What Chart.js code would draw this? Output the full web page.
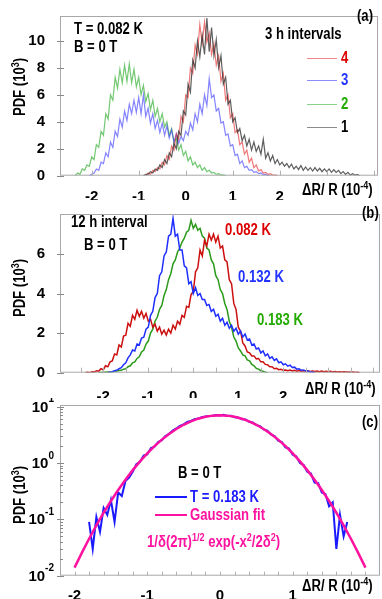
<!DOCTYPE html>
<html>
<head>
<meta charset="utf-8">
<script src="https://cdn.jsdelivr.net/npm/chart.js@4.4.1/dist/chart.umd.min.js"></script>
<style>
  body { margin: 0; width: 382px; height: 599px; background: #fff; position: relative; overflow: hidden;
    font-family: "Liberation Sans", Arial, sans-serif; font-weight: bold; }
  canvas { position: absolute; left: 0; }
  .t { position: absolute; white-space: nowrap; font-size: 16px; line-height: 16px;
    transform: scaleX(0.82); transform-origin: left center; }
  .ln { position: absolute; height: 0; }
  .yt { position: absolute; transform: translate(-50%, -50%) rotate(-90deg) scaleX(0.82); white-space: nowrap; font-size: 16px; line-height: 16px; }
  sup { font-size: 11px; line-height: 0; vertical-align: 6px; }
</style>
</head>
<body>
<canvas id="chartA" width="382" height="200" style="top:0"></canvas>
<canvas id="chartB" width="382" height="200" style="top:198px"></canvas>
<canvas id="chartC" width="382" height="201" style="top:398px"></canvas>

<!-- panel (a) text -->
<div class="t" style="left:74px;top:21px">T = 0.082 K</div>
<div class="t" style="left:74px;top:39px">B = 0 T</div>
<div class="t" style="left:265px;top:26px">3 h intervals</div>
<div class="t" style="left:357px;top:8px">(a)</div>
<div class="ln" style="left:307px;top:58px;width:30px;border-top:1px solid #f08a8a"></div>
<div class="t" style="left:341px;top:50px;color:#dd0000">4</div>
<div class="ln" style="left:307px;top:80px;width:30px;border-top:1px solid #8c8cff"></div>
<div class="t" style="left:341px;top:72px;color:#2233ff">3</div>
<div class="ln" style="left:307px;top:104px;width:30px;border-top:1px solid #8ad48a"></div>
<div class="t" style="left:341px;top:96px;color:#22aa00">2</div>
<div class="ln" style="left:307px;top:127px;width:30px;border-top:1px solid #8a8a8a"></div>
<div class="t" style="left:341px;top:119px;color:#000">1</div>
<div class="yt" style="left:20px;top:87px">PDF (10<sup>3</sup>)</div>
<div class="t" style="left:302px;top:182px">ΔR/ R (10<sup>-4</sup>)</div>

<!-- panel (b) text -->
<div class="t" style="left:71px;top:214px">12 h interval</div>
<div class="t" style="left:84px;top:237px">B = 0 T</div>
<div class="t" style="left:362px;top:205px">(b)</div>
<div class="t" style="left:225px;top:222px;color:#dd0000">0.082 K</div>
<div class="t" style="left:238px;top:269px;color:#2233ff">0.132 K</div>
<div class="t" style="left:257px;top:312px;color:#22aa00">0.183 K</div>
<div class="yt" style="left:20px;top:288px">PDF (10<sup>3</sup>)</div>
<div class="t" style="left:305px;top:381px">ΔR/ R (10<sup>-4</sup>)</div>

<!-- panel (c) text -->
<div class="t" style="left:178px;top:465px">B = 0 T</div>
<div class="ln" style="left:155px;top:496px;width:32px;border-top:2.5px solid #1a1aff"></div>
<div class="t" style="left:190px;top:489px;color:#1a1aff">T = 0.183 K</div>
<div class="ln" style="left:155px;top:514px;width:32px;border-top:2.5px solid #ff12a0"></div>
<div class="t" style="left:190px;top:507px;color:#ff12a0">Gaussian fit</div>
<div class="t" style="left:147px;top:534px;color:#ff12a0">1/δ(2π)<sup>1/2</sup> exp(-x<sup>2</sup>/2δ<sup>2</sup>)</div>
<div class="t" style="left:362px;top:414px">(c)</div>
<div class="yt" style="left:20px;top:495px">PDF (10<sup>3</sup>)</div>
<div class="t" style="left:302px;top:578px">ΔR/ R (10<sup>-4</sup>)</div>

<script>
const STEP = 0.05;
const FONT = '"Liberation Sans", Arial, sans-serif';

// panel (a): 3 h intervals at T = 0.082 K, values in 10^3
const a1Start = -0.90; // interval 1 (black)
const a1 = [0.0,0.1,0.1,0.3,0.2,0.5,0.4,0.8,0.6,1.2,0.9,1.7,1.4,2.4,2.0,3.3,3.0,4.8,4.5,6.8,
  6.2,8.6,8.0,10.0,8.8,10.4,9.0,11.7,9.2,11.0,8.9,10.1,8.0,8.9,6.8,7.3,5.3,5.6,4.0,4.3,
  3.2,3.5,2.6,3.0,2.2,2.7,1.9,2.5,1.8,2.2,1.6,2.7,1.3,1.7,1.1,1.5,0.9,1.2,0.8,1.0,
  0.7,0.9,0.6,0.85,0.5,0.7,0.45,0.75,0.4,0.65,0.4,0.6,0.35,0.6,0.35,0.55,0.3,0.5,0.3,0.5,
  0.25,0.45,0.25,0.4,0.15,0.3,0.1,0.25,0.05,0.15,0.05,0.1,0.0];
const a2Start = -2.35; // interval 2 (green)
const a2 = [0.0,0.2,0.1,0.5,0.4,0.8,0.7,1.4,1.2,2.3,2.1,3.3,3.0,4.6,4.2,6.0,5.6,7.3,6.5,7.9,
  6.9,8.2,7.0,8.3,6.9,7.9,6.6,7.3,6.0,6.7,5.5,6.1,4.9,5.6,4.4,5.0,4.0,4.6,3.6,4.0,
  3.0,3.5,2.5,2.8,1.9,2.3,1.5,1.8,1.1,1.4,0.8,1.0,0.6,0.8,0.4,0.6,0.3,0.4,0.2,0.25,
  0.1,0.15,0.05,0.05,0.0];
const a3Start = -2.05; // interval 3 (blue)
const a3 = [0.0,0.1,0.2,0.5,0.4,1.0,0.9,1.7,1.4,2.5,2.1,3.3,2.9,4.2,3.6,4.8,4.1,5.3,4.6,5.6,
  4.7,5.8,4.6,6.0,4.4,5.0,3.9,4.6,3.5,4.1,3.2,3.9,3.0,3.7,2.8,3.4,2.5,3.1,2.4,2.9,
  2.6,3.3,3.0,3.9,3.4,4.6,4.0,5.3,4.6,6.0,5.2,7.2,5.8,6.0,4.8,5.0,3.9,4.0,3.0,3.1,
  2.2,2.3,1.5,1.6,0.9,1.1,0.6,0.7,0.4,0.45,0.25,0.3,0.15,0.2,0.08,0.1,0.03,0.0];
const a4Start = -0.85; // interval 4 (red)
const a4 = [0.0,0.2,0.1,0.4,0.3,0.6,0.5,1.0,0.8,1.5,1.2,2.2,1.9,3.1,2.7,4.4,4.0,6.0,5.8,8.0,
  7.6,9.7,9.0,11.2,9.8,11.4,9.9,10.6,9.0,9.8,8.2,8.9,7.0,7.6,5.6,6.0,4.3,4.6,3.2,3.4,
  2.3,2.5,1.6,1.9,1.0,1.3,0.6,0.8,0.35,0.45,0.2,0.25,0.1,0.15,0.05,0.05,0.0];

// panel (b): 12 h interval at three temperatures
const b082Start = -2.40;
const b082 = [0.0,0.02,0.0,0.05,0.03,0.1,0.08,0.2,0.15,0.35,0.3,0.55,0.6,0.95,0.9,1.4,1.3,1.85,1.9,2.5,
  2.35,2.9,2.7,3.15,2.85,3.1,2.75,3.0,2.6,2.7,2.3,2.45,2.1,2.3,1.95,2.15,1.9,2.2,2.0,2.4,
  2.2,2.6,2.45,2.9,2.8,3.35,3.3,3.95,4.1,5.1,5.3,6.2,5.9,6.7,6.4,7.0,6.7,7.0,6.6,6.9,
  6.3,6.4,5.7,5.6,4.7,4.5,3.5,3.2,2.3,2.1,1.5,1.35,1.05,1.0,0.85,0.85,0.7,0.72,0.55,0.55,
  0.42,0.4,0.3,0.3,0.2,0.22,0.15,0.17,0.12,0.14,0.1,0.13,0.09,0.12,0.08,0.11,0.07,0.1,0.07,0.09,
  0.06,0.09,0.06,0.08,0.05,0.08,0.05,0.07,0.05,0.07,0.04,0.06,0.04,0.05,0.03,0.05,0.03,0.04,0.02,0.03,
  0.01,0.02,0.0];
const b132Start = -1.90;
const b132 = [0.0,0.03,0.05,0.1,0.12,0.2,0.25,0.4,0.5,0.75,0.9,1.15,1.1,1.45,1.4,1.75,1.8,2.2,2.3,2.9,
  3.1,3.8,4.0,4.9,5.1,5.9,6.1,6.9,7.0,7.8,6.9,7.0,6.2,6.2,5.4,5.3,4.5,4.6,4.0,4.3,
  3.9,4.0,3.7,3.7,3.4,3.45,3.1,3.2,2.85,2.95,2.6,2.75,2.4,2.55,2.25,2.4,2.1,2.25,1.95,2.1,
  1.8,1.95,1.65,1.7,1.4,1.45,1.2,1.25,1.0,1.1,0.85,0.95,0.72,0.8,0.62,0.7,0.5,0.55,0.4,0.45,
  0.33,0.38,0.26,0.28,0.18,0.2,0.12,0.14,0.08,0.08,0.04,0.03,0.0];
const b183Start = -2.10;
const b183 = [0.0,0.01,0.02,0.02,0.03,0.04,0.05,0.07,0.08,0.11,0.12,0.18,0.2,0.3,0.35,0.5,0.55,0.72,0.8,1.05,
  1.15,1.45,1.6,2.0,2.2,2.6,2.8,3.2,3.4,3.9,4.2,4.7,5.0,5.5,5.7,6.1,6.3,6.6,6.8,7.1,
  7.2,7.7,7.3,7.5,7.2,7.3,6.9,6.8,6.3,6.2,5.7,5.5,4.9,4.7,4.2,4.0,3.5,3.2,2.6,2.3,
  1.8,1.6,1.25,1.1,0.9,0.85,0.65,0.6,0.42,0.35,0.22,0.18,0.1,0.07,0.03,0.0];

// panel (c): T = 0.183 K on a log scale, with the Gaussian fit
const cDataStart = -1.80;
const cData = [0.09,0.03,0.11,0.06,0.16,0.12,0.22,0.09,0.30,0.26,0.48,0.55,0.70,0.95,1.05,1.35,1.42,1.85,1.95,2.35,
  2.55,3.0,3.3,3.75,4.1,4.55,4.85,5.35,5.6,6.0,6.2,6.5,6.7,6.85,6.9,7.1,6.95,7.15,6.85,6.9,
  6.5,6.45,6.0,5.9,5.4,5.25,4.7,4.5,3.95,3.75,3.2,3.0,2.5,2.35,1.9,1.8,1.4,1.3,1.0,0.92,
  0.70,0.65,0.45,0.44,0.30,0.28,0.17,0.20,0.03,0.12,0.05,0.09];
const cFitStart = -2.0, cFitStep = 0.1;
const cFit = [0.0139,0.0254,0.0453,0.078,0.131,0.212,0.332,0.506,0.747,1.07,1.48,1.99,2.60,3.28,4.02,4.77,5.49,6.12,6.61,6.93,
  7.04,6.93,6.61,6.12,5.49,4.77,4.02,3.28,2.60,1.99,1.48,1.07,0.747,0.506,0.332,0.212,0.131,0.078,0.0453,0.0254,0.0139];

// tick labels and tick mark positions (axis values)
const abXLabels = [-2, -1, 0, 1, 2];
const cXLabels = [-2, -1, 0, 1];
const aXTicks = [-2, -1, 0, 1, 2, 3, 4];
const aYTicks = [0, 2, 4, 6, 8, 10];
const bXTicks = [-2.5, -2, -1.5, -1, -0.5, 0, 0.5, 1, 1.5, 2, 2.5, 3, 3.5, 4];
const bYTicks = [0, 2, 4, 6];
const cXTicks = [-2, -1.8, -1.6, -1.4, -1.2, -1, -0.8, -0.6, -0.4, -0.2, 0, 0.2, 0.4, 0.6, 0.8, 1, 1.2, 1.4, 1.6, 1.8, 2];
const cDecades = [-2, -1, 0, 1];

function pts(x0, ys, step) {
  const s = step || STEP;
  return ys.map((y, i) => ({ x: +(x0 + i * s).toFixed(3), y }));
}

const framePlugin = {
  id: "frame",
  afterDatasetsDraw(chart, args, o) {
    const { ctx, chartArea: a } = chart;
    const x = chart.scales.x, y = chart.scales.y;
    ctx.save();
    ctx.lineWidth = 1;
    ctx.strokeStyle = "#a8a8a8";
    ctx.strokeRect(a.left + 0.5, a.top + 0.5, a.right - a.left - 1, a.bottom - a.top - 1);
    const line = (x1, y1, x2, y2) => { ctx.beginPath(); ctx.moveTo(x1, y1); ctx.lineTo(x2, y2); ctx.stroke(); };
    ctx.strokeStyle = "#b0b0b0";
    (o.xTicks || []).forEach((v) => {
      const px = Math.round(x.getPixelForValue(v)) + 0.5;
      line(px, a.bottom, px, a.bottom - (o.xLen || 5));
    });
    ctx.strokeStyle = "#888";
    (o.yTicks || []).forEach((v) => {
      const py = Math.round(y.getPixelForValue(v)) + 0.5;
      line(a.left - 3, py, a.left + 4, py);
    });
    if (o.logLabels) {
      o.logLabels.forEach((e) => {
        for (let m = 2; m <= 9; m++) {
          const v = m * Math.pow(10, e);
          if (v > y.max) break;
          const py = Math.round(y.getPixelForValue(v)) + 0.5;
          line(a.left, py, a.left + 3, py);
        }
        const py = y.getPixelForValue(Math.pow(10, e));
        ctx.fillStyle = "#000";
        ctx.textBaseline = "middle";
        ctx.textAlign = "right";
        ctx.font = "bold 10px " + FONT;
        const ex = String(e);
        ctx.fillText(ex, 54, py - 7);
        const w = ctx.measureText(ex).width;
        ctx.font = "bold 15px " + FONT;
        ctx.fillText("10", 54 - w, py + 1);
      });
    }
    ctx.restore();
  },
};

function makeChart(id, datasets, opt) {
  return new Chart(document.getElementById(id), {
    type: "line",
    data: { datasets },
    plugins: [framePlugin],
    options: {
      responsive: false,
      animation: false,
      devicePixelRatio: 1,
      layout: { padding: { left: 0, right: opt.right, top: opt.top, bottom: 0 } },
      elements: { point: { radius: 0 }, line: { tension: 0 } },
      plugins: {
        legend: { display: false },
        tooltip: { enabled: false },
        frame: { xTicks: opt.xTicks, xLen: opt.xLen, yTicks: opt.yTicks, logLabels: opt.logLabels },
      },
      scales: {
        x: {
          type: "linear",
          min: opt.xMin,
          max: opt.xMax,
          afterBuildTicks: (s) => { s.ticks = opt.xLabels.map((v) => ({ value: v })); },
          afterFit: (s) => { s.height = opt.xH; },
          grid: { display: false },
          border: { display: false },
          ticks: {
            autoSkip: false,
            maxRotation: 0,
            padding: opt.xPad,
            color: "#000",
            font: { family: FONT, size: 15, weight: "bold" },
            callback: (v) => String(v),
          },
        },
        y: {
          type: opt.yType || "linear",
          min: opt.yMin,
          max: opt.yMax,
          afterBuildTicks: (s) => { if (opt.yLabels) s.ticks = opt.yLabels.map((v) => ({ value: v })); },
          afterFit: (s) => { s.width = 60; },
          grid: { display: false },
          border: { display: false },
          ticks: {
            display: !opt.logLabels,
            autoSkip: false,
            padding: 7,
            color: "#000",
            font: { family: FONT, size: 15, weight: "bold" },
            callback: (v) => String(v),
          },
        },
      },
    },
  });
}

const ds = (data, color, width) => ({ data, borderColor: color, borderWidth: width, fill: false });

makeChart("chartA", [
  ds(pts(a1Start, a1), "rgba(40,40,40,0.75)", 1.2),
  ds(pts(a4Start, a4), "rgba(228,30,30,0.6)", 1.2),
  ds(pts(a3Start, a3), "rgba(50,50,255,0.6)", 1.2),
  ds(pts(a2Start, a2), "rgba(40,170,40,0.65)", 1.2),
], { top: 5, right: 4, xH: 24.3, xPad: 4, xMin: -2.674, xMax: 4.09, yMin: 0, yMax: 11.85,
  xLabels: abXLabels, yLabels: aYTicks, xTicks: aXTicks, xLen: 5, yTicks: aYTicks });

makeChart("chartB", [
  ds(pts(b132Start, b132), "#1f2fff", 1.5),
  ds(pts(b082Start, b082), "#cc1010", 1.5),
  ds(pts(b183Start, b183), "#2a9a1a", 1.5),
], { top: 5.3, right: 2, xH: 25.3, xPad: 7, xMin: -2.962, xMax: 4.149, yMin: 0, yMax: 8.02,
  xLabels: abXLabels, yLabels: bYTicks, xTicks: bXTicks, xLen: 5, yTicks: bYTicks });

makeChart("chartC", [
  ds(pts(cFitStart, cFit, cFitStep), "#ff12a0", 2.5),
  ds(pts(cDataStart, cData), "#1a1aff", 2),
], { top: 7, right: 2, xH: 23.3, xPad: 3, xMin: -2.2, xMax: 2.2, yType: "logarithmic", yMin: 0.01, yMax: 10.7,
  xLabels: cXLabels, xTicks: cXTicks, xLen: 4, yTicks: cDecades.map((e) => Math.pow(10, e)), logLabels: cDecades });
</script>
</body>
</html>
